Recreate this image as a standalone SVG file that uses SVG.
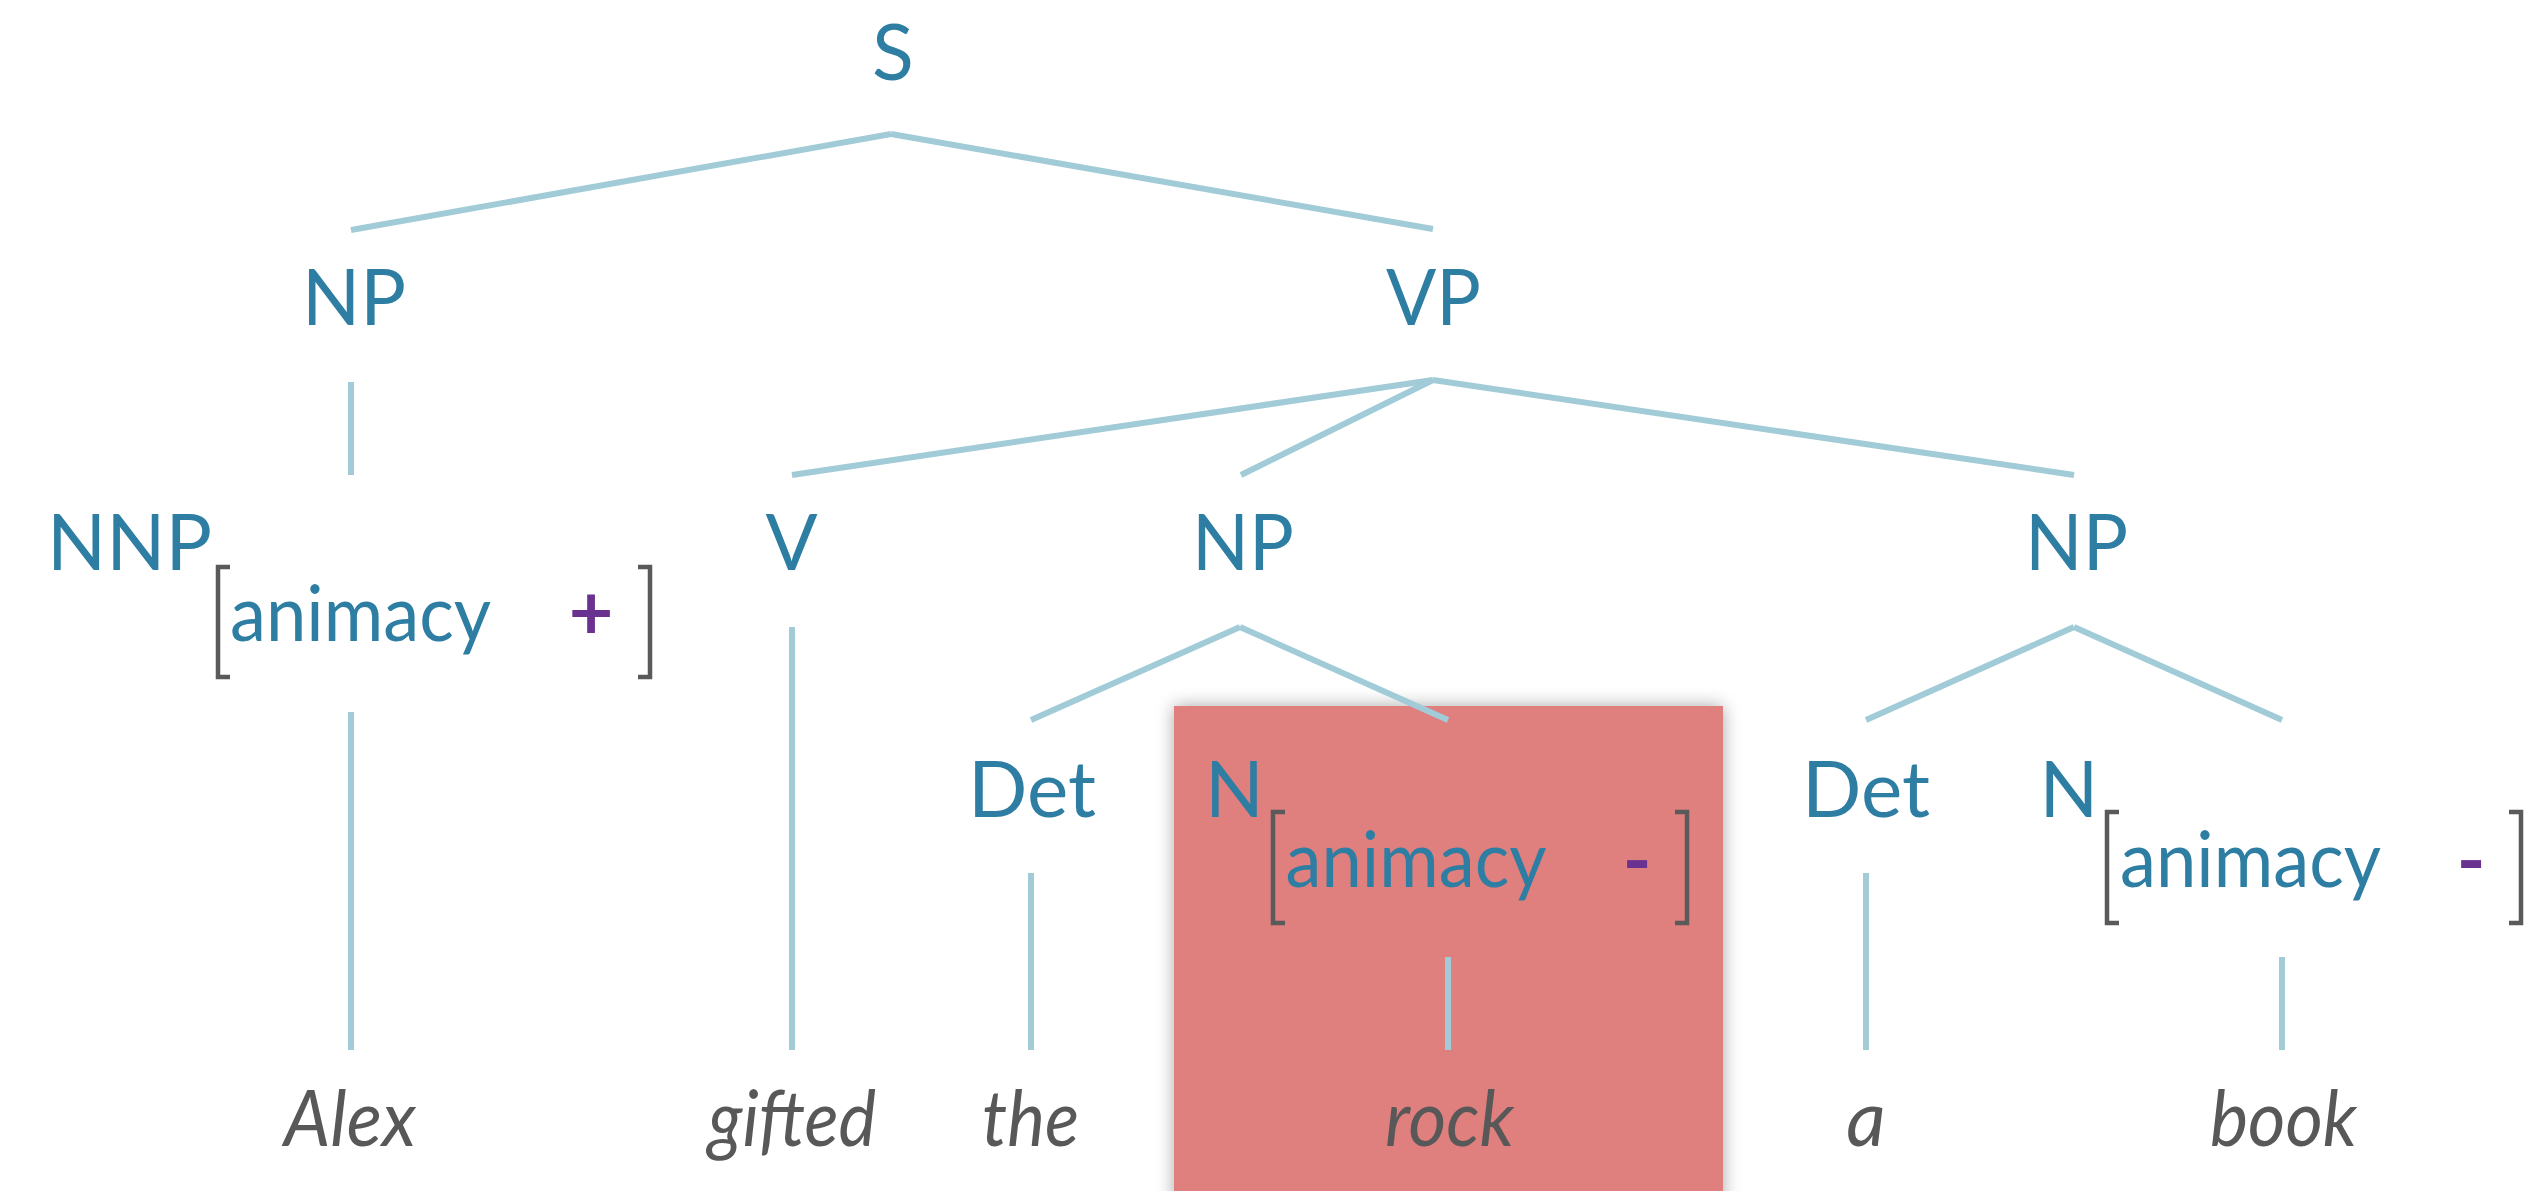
<svg xmlns="http://www.w3.org/2000/svg" width="2546" height="1191" viewBox="0 0 2546 1191">
<style>
.cat{font-family:Lato,"Open Sans","Noto Sans",sans-serif;font-size:77px;fill:#2e7ea3}
.word{font-family:Lato,"Open Sans","Noto Sans",sans-serif;font-size:77px;font-style:italic;fill:#585858}
.val{font-family:Lato,"Open Sans","Noto Sans",sans-serif;font-size:77px;fill:#6a3290;font-weight:bold}
.br{fill:none;stroke:#5a5a5a;stroke-width:4.5}
.edge{stroke:#a0cbd7;stroke-width:6;fill:none}
</style>
<defs>
<filter id="shadow" x="-20%" y="-20%" width="140%" height="140%">
<feGaussianBlur in="SourceAlpha" stdDeviation="9"/>
<feComponentTransfer><feFuncA type="linear" slope="0.35"/></feComponentTransfer>
<feMerge><feMergeNode/><feMergeNode in="SourceGraphic"/></feMerge>
</filter>
</defs>
<rect width="2546" height="1191" fill="#ffffff"/>
<rect id="highlight" x="1174" y="706" width="549" height="500" fill="#df7f7e" filter="url(#shadow)"/>
<g id="connectors">
<line class="edge" x1="891" y1="134" x2="351" y2="230"/>
<line class="edge" x1="891" y1="134" x2="1433" y2="229"/>
<line class="edge" x1="351" y1="382" x2="351" y2="475"/>
<line class="edge" x1="1433" y1="380" x2="792" y2="475"/>
<line class="edge" x1="1433" y1="380" x2="1241" y2="475"/>
<line class="edge" x1="1433" y1="380" x2="2074" y2="475"/>
<line class="edge" x1="351" y1="712" x2="351" y2="1050"/>
<line class="edge" x1="792" y1="627" x2="792" y2="1050"/>
<line class="edge" x1="1240" y1="627" x2="1031" y2="720"/>
<line class="edge" x1="1240" y1="627" x2="1448" y2="720"/>
<line class="edge" x1="2074" y1="627" x2="1866" y2="720"/>
<line class="edge" x1="2074" y1="627" x2="2282" y2="720"/>
<line class="edge" x1="1031" y1="873" x2="1031" y2="1050"/>
<line class="edge" x1="1448" y1="957" x2="1448" y2="1050"/>
<line class="edge" x1="1866" y1="873" x2="1866" y2="1050"/>
<line class="edge" x1="2282" y1="957" x2="2282" y2="1050"/>
</g>
<g id="node-S"><text class="cat" x="893" y="80" text-anchor="middle">S</text></g>
<g id="node-NP1"><text class="cat" x="302" y="325" textLength="104" lengthAdjust="spacingAndGlyphs">NP</text></g>
<g id="node-VP"><text class="cat" x="1386" y="325" textLength="95" lengthAdjust="spacingAndGlyphs">VP</text></g>
<g id="node-NNP">
<text class="cat" x="47" y="570" textLength="165" lengthAdjust="spacingAndGlyphs">NNP</text>
<path class="br" d="M230 567 H218 V677 H230"/>
<text class="cat" x="230" y="641" textLength="261" lengthAdjust="spacingAndGlyphs">animacy</text>
<text class="val" x="591" y="639" text-anchor="middle">+</text>
<path class="br" d="M638 567 H650 V677 H638"/>
</g>
<g id="node-V"><text class="cat" x="791.5" y="570" text-anchor="middle">V</text></g>
<g id="node-NP2"><text class="cat" x="1192" y="570" textLength="102" lengthAdjust="spacingAndGlyphs">NP</text></g>
<g id="node-NP3"><text class="cat" x="2025" y="570" textLength="103" lengthAdjust="spacingAndGlyphs">NP</text></g>
<g id="node-Det1"><text class="cat" x="968" y="817" textLength="128" lengthAdjust="spacingAndGlyphs">Det</text></g>
<g id="node-N1">
<text class="cat" x="1234.5" y="817" text-anchor="middle">N</text>
<path class="br" d="M1285 812 H1273 V923 H1285"/>
<text class="cat" x="1285.5" y="887" textLength="261" lengthAdjust="spacingAndGlyphs">animacy</text>
<text class="val" x="1637" y="887" text-anchor="middle">-</text>
<path class="br" d="M1675 812 H1687 V923 H1675"/>
</g>
<g id="node-Det2"><text class="cat" x="1802" y="817" textLength="128" lengthAdjust="spacingAndGlyphs">Det</text></g>
<g id="node-N2">
<text class="cat" x="2069" y="817" text-anchor="middle">N</text>
<path class="br" d="M2119 812 H2107 V923 H2119"/>
<text class="cat" x="2120" y="887" textLength="261" lengthAdjust="spacingAndGlyphs">animacy</text>
<text class="val" x="2471" y="887" text-anchor="middle">-</text>
<path class="br" d="M2509 812 H2521 V923 H2509"/>
</g>
<g id="word-Alex"><text class="word" x="350" y="1146" text-anchor="middle" textLength="132" lengthAdjust="spacingAndGlyphs">Alex</text></g>
<g id="word-gifted"><text class="word" x="792" y="1146" text-anchor="middle" textLength="168" lengthAdjust="spacingAndGlyphs">gifted</text></g>
<g id="word-the"><text class="word" x="1030.5" y="1146" text-anchor="middle" textLength="97" lengthAdjust="spacingAndGlyphs">the</text></g>
<g id="word-rock"><text class="word" x="1449.5" y="1146" text-anchor="middle" textLength="129" lengthAdjust="spacingAndGlyphs">rock</text></g>
<g id="word-a"><text class="word" x="1866" y="1146" text-anchor="middle">a</text></g>
<g id="word-book"><text class="word" x="2283.5" y="1146" text-anchor="middle" textLength="147" lengthAdjust="spacingAndGlyphs">book</text></g>
</svg>
